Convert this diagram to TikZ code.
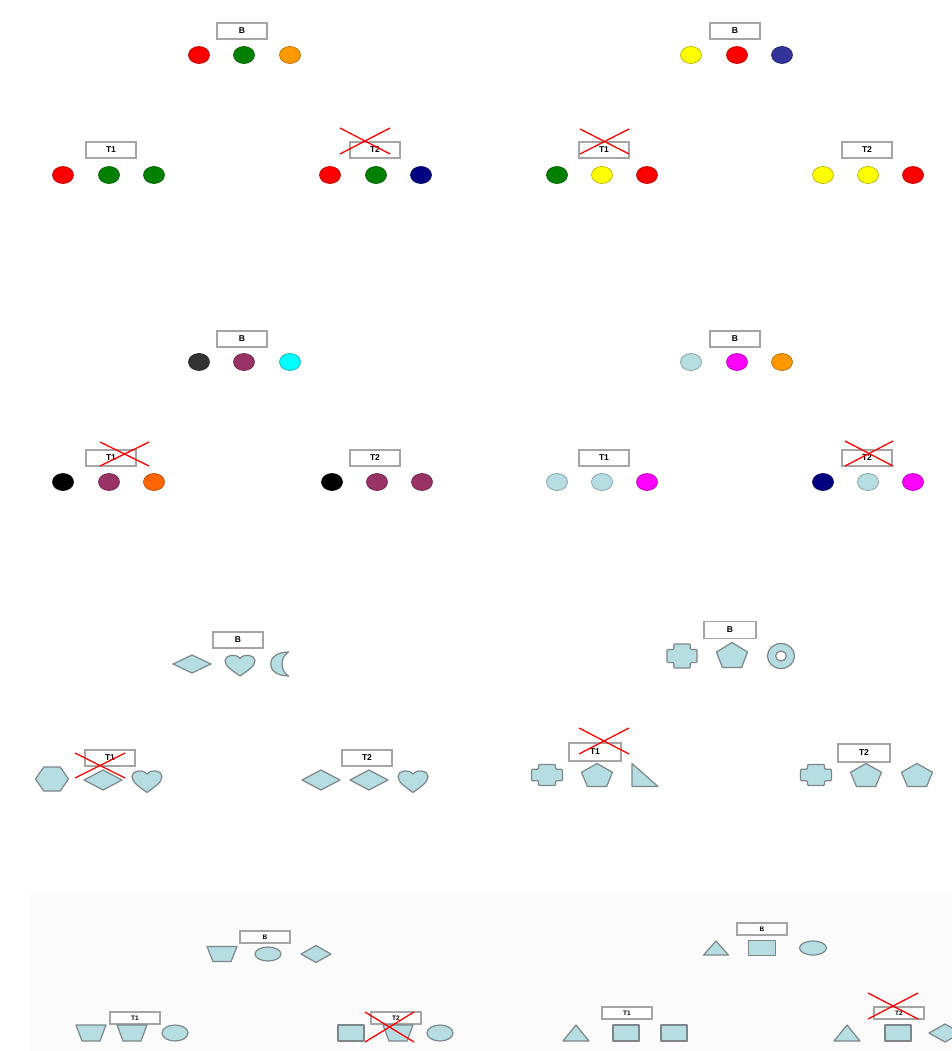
\documentclass[tikz,border=0pt]{standalone}
\usepackage{fontspec}
\setmainfont{Liberation Sans}
\usetikzlibrary{shapes.geometric}
\definecolor{lb}{RGB}{182,221,226}
\definecolor{sgray}{RGB}{125,135,137}
\definecolor{boxgray}{RGB}{165,165,165}
\definecolor{bgf}{RGB}{251,251,252}
\definecolor{cgreen}{RGB}{0,128,0}
\definecolor{corange}{RGB}{255,153,0}
\definecolor{corange2}{RGB}{255,102,0}
\definecolor{cnavy}{RGB}{0,0,128}
\definecolor{cdblue}{RGB}{51,51,153}
\definecolor{cyel}{RGB}{255,255,0}
\definecolor{cdgray}{RGB}{51,51,51}
\definecolor{cpurp}{RGB}{153,51,102}
\definecolor{ccyan}{RGB}{0,255,255}
\definecolor{cmag}{RGB}{255,0,255}
\tikzset{
  lbl/.style={draw=boxgray, line width=1.1pt, fill=white, minimum width=50pt, minimum height=16pt,
    inner sep=0pt, font=\fontsize{8.5}{9}\selectfont\bfseries},
  sm/.style={lbl, minimum height=12pt, font=\fontsize{6.5}{7}\selectfont\bfseries},
  dot/.style={ellipse, minimum width=21pt, minimum height=17pt, inner sep=0pt, line width=0.7pt, fill=#1, draw=#1!70!black},
  shp/.style={fill=lb, draw=sgray, line width=1.2pt, line join=round},
  lbell/.style={shp, ellipse, minimum width=26pt, minimum height=14pt, inner sep=0pt},
  lbrect/.style={shp, rectangle, minimum width=27pt, minimum height=15pt, inner sep=0pt},
  xx/.style={draw=red, line width=1.3pt},
  pics/diam/.style={code={\path[shp] (-1,0)--(0,-1)--(1,0)--(0,1)--cycle;}},
  pics/hexa/.style={code={\path[shp] (-1,0)--(-0.5,-1)--(0.5,-1)--(1,0)--(0.5,1)--(-0.5,1)--cycle;}},
  pics/penta/.style={code={\path[shp] (0,-1)--(1,-0.24)--(0.62,1)--(-0.62,1)--(-1,-0.24)--cycle;}},
  pics/plus/.style={code={\path[shp, rounded corners=1pt] (-0.55,-1)--(0.55,-1)--(0.55,-0.55)--(1,-0.55)--(1,0.55)--(0.55,0.55)--(0.55,1)--(-0.55,1)--(-0.55,0.55)--(-1,0.55)--(-1,-0.55)--(-0.55,-0.55)--cycle;}},
  pics/heart/.style={code={\path[shp] (0,1) .. controls (-0.45,0.55) and (-1,0.15) .. (-1,-0.4) .. controls (-1,-0.9) and (-0.3,-1.1) .. (0,-0.6) .. controls (0.3,-1.1) and (1,-0.9) .. (1,-0.4) .. controls (1,0.15) and (0.45,0.55) .. (0,1) -- cycle;}},
  pics/moon/.style={code={\path[shp] (0.7,-1) .. controls (-1.5,-1) and (-1.5,1) .. (0.7,1) .. controls (-0.1,0.6) and (-0.1,-0.6) .. (0.7,-1) -- cycle;}},
  pics/ring/.style={code={\path[shp, even odd rule] (0,0) circle[radius=1] (0,0) circle[radius=0.4];}},
  pics/rtri/.style={code={\path[shp] (-1,-1)--(-1,1)--(1,1)--cycle;}},
  pics/trap/.style={code={\path[shp] (-1,-1)--(1,-1)--(0.6,1)--(-0.6,1)--cycle;}},
  pics/tri/.style={code={\path[shp] (0,-1)--(1,1)--(-1,1)--cycle;}},
}
\begin{document}
\begin{tikzpicture}[x=1pt,y=-1pt]
\useasboundingbox (0,0) rectangle (952,1051);
\clip (0,0) rectangle (952,1051);
\fill[bgf] (30,893) rectangle (952,1051);

% ---------- Panel 1 ----------
\node[lbl] (b1) at (242,31) {B};
\node[dot=red] (b1a) at (199,55) {};
\node[dot=cgreen] (b1b) at (244,55) {};
\node[dot=corange] (b1c) at (290,55) {};
\node[lbl] (t11) at (111,150) {T1};
\node[dot=red] (t11a) at (63,175) {};
\node[dot=cgreen] (t11b) at (109,175) {};
\node[dot=cgreen] (t11c) at (154,175) {};
\node[lbl] (t12) at (375,150) {T2};
\node[dot=red] (t12a) at (330,175) {};
\node[dot=cgreen] (t12b) at (376,175) {};
\node[dot=cnavy] (t12c) at (421,175) {};
\draw[xx] ([shift={(-35,-22)}]t12.center) -- ([shift={(15,4)}]t12.center);
\draw[xx] ([shift={(-35,4)}]t12.center) -- ([shift={(15,-22)}]t12.center);

% ---------- Panel 2 ----------
\node[lbl] (b2) at (735,31) {B};
\node[dot=cyel] (b2a) at (691,55) {};
\node[dot=red] (b2b) at (737,55) {};
\node[dot=cdblue] (b2c) at (782,55) {};
\node[lbl] (t21) at (604,150) {T1};
\node[dot=cgreen] (t21a) at (557,175) {};
\node[dot=cyel] (t21b) at (602,175) {};
\node[dot=red] (t21c) at (647,175) {};
\draw[xx] ([shift={(-24,-21)}]t21.center) -- ([shift={(25,4)}]t21.center);
\draw[xx] ([shift={(-24,4)}]t21.center) -- ([shift={(25,-21)}]t21.center);
\node[lbl] (t22) at (867,150) {T2};
\node[dot=cyel] (t22a) at (823,175) {};
\node[dot=cyel] (t22b) at (868,175) {};
\node[dot=red] (t22c) at (913,175) {};

% ---------- Panel 3 ----------
\node[lbl] (b3) at (242,339) {B};
\node[dot=cdgray] (b3a) at (199,362) {};
\node[dot=cpurp] (b3b) at (244,362) {};
\node[dot=ccyan] (b3c) at (290,362) {};
\node[lbl] (t31) at (111,458) {T1};
\node[dot=black] (t31a) at (63,482) {};
\node[dot=cpurp] (t31b) at (109,482) {};
\node[dot=corange2] (t31c) at (154,482) {};
\draw[xx] ([shift={(-11,-16)}]t31.center) -- ([shift={(38,8)}]t31.center);
\draw[xx] ([shift={(-11,8)}]t31.center) -- ([shift={(38,-16)}]t31.center);
\node[lbl] (t32) at (375,458) {T2};
\node[dot=black] (t32a) at (332,482) {};
\node[dot=cpurp] (t32b) at (377,482) {};
\node[dot=cpurp] (t32c) at (422,482) {};

% ---------- Panel 4 ----------
\node[lbl] (b4) at (735,339) {B};
\node[dot=lb] (b4a) at (691,362) {};
\node[dot=cmag] (b4b) at (737,362) {};
\node[dot=corange] (b4c) at (782,362) {};
\node[lbl] (t41) at (604,458) {T1};
\node[dot=lb] (t41a) at (557,482) {};
\node[dot=lb] (t41b) at (602,482) {};
\node[dot=cmag] (t41c) at (647,482) {};
\node[lbl] (t42) at (867,458) {T2};
\node[dot=cnavy] (t42a) at (823,482) {};
\node[dot=lb] (t42b) at (868,482) {};
\node[dot=cmag] (t42c) at (913,482) {};
\draw[xx] ([shift={(-22,-17)}]t42.center) -- ([shift={(26,8)}]t42.center);
\draw[xx] ([shift={(-22,8)}]t42.center) -- ([shift={(26,-17)}]t42.center);

% ---------- Panel 5 ----------
\node[lbl] (b5) at (238,640) {B};
\pic (b5a) [xscale=19,yscale=9] at (192,664) {diam};
\pic (b5b) [xscale=15,yscale=11] at (240,665) {heart};
\pic (b5c) [xscale=11,yscale=12] at (281,664) {moon};
\node[lbl] (t51) at (110,758) {T1};
\pic (t51a) [xscale=16.5,yscale=12] at (52,779) {hexa};
\pic (t51b) [xscale=19,yscale=10] at (103,780) {diam};
\pic (t51c) [xscale=15,yscale=11.5] at (147,781) {heart};
\draw[xx] ([shift={(-35,-5)}]t51.center) -- ([shift={(15,20)}]t51.center);
\draw[xx] ([shift={(-35,20)}]t51.center) -- ([shift={(15,-5)}]t51.center);
\node[lbl] (t52) at (367,758) {T2};
\pic (t52a) [xscale=19,yscale=10] at (321,780) {diam};
\pic (t52b) [xscale=19,yscale=10] at (369,780) {diam};
\pic (t52c) [xscale=15,yscale=11.5] at (413,781) {heart};

% ---------- Panel 6 ----------
\node[lbl, minimum width=52pt, minimum height=17pt] (b6) at (730,630) {B};
\pic (b6a) [xscale=15,yscale=12] at (682,656) {plus};
\pic (b6b) [xscale=15.5,yscale=12.5] at (732,655) {penta};
\pic (b6c) [xscale=13.5,yscale=12.5] at (781,656) {ring};
\node[lbl, minimum width=52pt, minimum height=18pt] (t61) at (595,752) {T1};
\pic (t61a) [xscale=15.5,yscale=10.5] at (547,775) {plus};
\pic (t61b) [xscale=15.5,yscale=11.5] at (597,775) {penta};
\pic (t61c) [xscale=13,yscale=11.5] at (645,775) {rtri};
\draw[xx] ([shift={(-16,-24)}]t61.center) -- ([shift={(34,2)}]t61.center);
\draw[xx] ([shift={(-16,2)}]t61.center) -- ([shift={(34,-24)}]t61.center);
\node[lbl, minimum width=52pt, minimum height=18pt] (t62) at (864,753) {T2};
\pic (t62a) [xscale=15.5,yscale=10.5] at (816,775) {plus};
\pic (t62b) [xscale=15.5,yscale=11.5] at (866,775) {penta};
\pic (t62c) [xscale=15.5,yscale=11.5] at (917,775) {penta};

% ---------- Panel 7 ----------
\node[sm] (b7) at (265,937) {B};
\pic (b7a) [xscale=15,yscale=7.5] at (222,954) {trap};
\node[lbell] (b7b) at (268,954) {};
\pic (b7c) [xscale=15,yscale=8.5] at (316,954) {diam};
\node[sm] (t71) at (135,1018) {T1};
\pic (t71a) [xscale=15,yscale=8] at (91,1033) {trap};
\pic (t71b) [xscale=15,yscale=8] at (132,1033) {trap};
\node[lbell, minimum height=16pt] (t71c) at (175,1033) {};
\node[sm] (t72) at (396,1018) {T2};
\node[lbrect, minimum width=26pt, minimum height=16pt] (t72a) at (351,1033) {};
\pic (t72b) [xscale=15,yscale=8] at (398,1033) {trap};
\node[lbell, minimum height=16pt] (t72c) at (440,1033) {};
\draw[xx] ([shift={(-31,24)}]t72.center) -- ([shift={(18,-6)}]t72.center);
\draw[xx] ([shift={(-31,-6)}]t72.center) -- ([shift={(18,24)}]t72.center);

% ---------- Panel 8 ----------
\node[sm] (b8) at (762,929) {B};
\pic (b8a) [xscale=12.5,yscale=7] at (716,948) {tri};
\node[lbrect] (b8b) at (762,948) {};
\node[lbell, minimum width=27pt] (b8c) at (813,948) {};
\node[sm] (t81) at (627,1013) {T1};
\pic (t81a) [xscale=13,yscale=8] at (576,1033) {tri};
\node[lbrect, minimum width=26pt, minimum height=16pt] (t81b) at (626,1033) {};
\node[lbrect, minimum width=26pt, minimum height=16pt] (t81c) at (674,1033) {};
\node[sm] (t82) at (899,1013) {T2};
\pic (t82a) [xscale=13,yscale=8] at (847,1033) {tri};
\node[lbrect, minimum width=26pt, minimum height=16pt] (t82b) at (898,1033) {};
\pic (t82c) [xscale=16,yscale=9] at (945,1033) {diam};
\draw[xx] ([shift={(-31,-20)}]t82.center) -- ([shift={(19,6)}]t82.center);
\draw[xx] ([shift={(-31,6)}]t82.center) -- ([shift={(19,-20)}]t82.center);
\end{tikzpicture}
\end{document}
